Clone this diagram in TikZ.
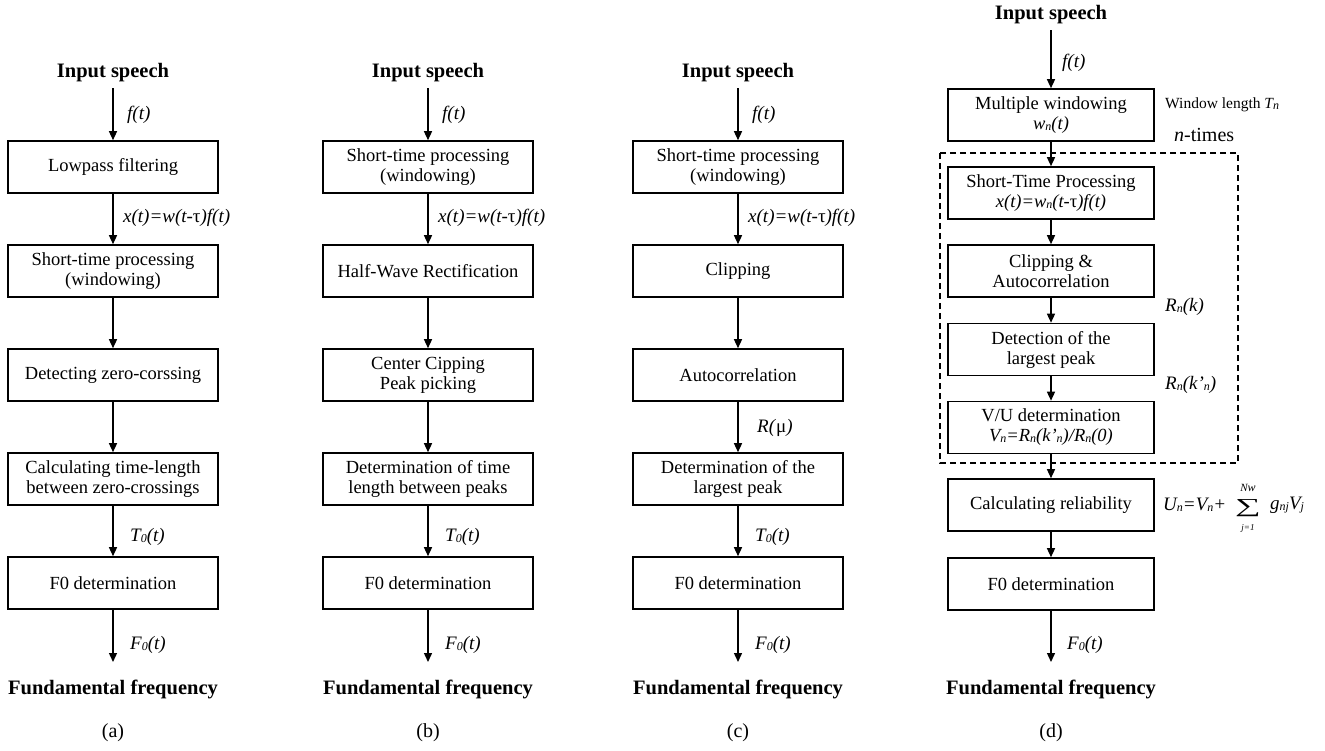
\documentclass[tikz,border=0pt]{standalone}
\usepackage{fontspec}
\setmainfont{Liberation Serif}
\usetikzlibrary{arrows.meta}
% small subscript set close to the baseline
\newcommand\lowsub[1]{\raisebox{-0.1ex}{\fontsize{12}{12}\selectfont #1}}
\tikzset{
  box/.style={draw, line width=1.6pt, minimum width=210pt, minimum height=52pt,
    inner sep=0pt, align=center, font=\fontsize{18.5}{20}\selectfont},
  dbox/.style={box, minimum width=206pt},
  arr/.style={line width=1.4pt, -{Triangle[length=9pt,width=8pt]}},
  lab/.style={anchor=west, inner sep=0pt, font=\fontsize{19}{19}\selectfont\itshape},
  head/.style={inner sep=0pt, font=\fontsize{20.5}{20.5}\selectfont\bfseries},
  figtag/.style={inner sep=0pt, font=\fontsize{20}{20}\selectfont},
  loopframe/.style={line width=1.8pt, dash pattern=on 6pt off 4pt},
}
\begin{document}
\begin{tikzpicture}[x=1pt,y=-1pt]
\useasboundingbox (0,0) rectangle (1325,751);

% ---------------- (a) zero-crossing method ----------------
\node[head] (ain) at (113,73) {Input speech};
\node[box] (a1) at (113,167) {Lowpass filtering};
\node[box] (a2) at (113,271) {Short-time processing\\(windowing)};
\node[box] (a3) at (113,375) {Detecting zero-corssing};
\node[box] (a4) at (113,479) {Calculating time-length\\between zero-crossings};
\node[box] (a5) at (113,583) {F0 determination};
\coordinate (aend) at (113,662);
\node[head] (aout) at (113,689) {Fundamental frequency};
\node[figtag] (atag) at (113,733) {(a)};
\draw[arr, shorten <=6pt] (ain) -- (a1);
\draw[arr] (a1) -- (a2);
\draw[arr] (a2) -- (a3);
\draw[arr] (a3) -- (a4);
\draw[arr] (a4) -- (a5);
\draw[arr] (a5) -- (aend);
\node[lab] at (127,115) {f(t)};
\node[lab] at (123,218) {x(t)=w(t-\textup{τ})f(t)};
\node[lab] at (130,537) {T\lowsub{0}(t)};
\node[lab] at (130,645) {F\lowsub{0}(t)};

% ---------------- (b) peak picking method ----------------
\node[head] (bin) at (428,73) {Input speech};
\node[box] (b1) at (428,167) {Short-time processing\\(windowing)};
\node[box] (b2) at (428,271) {Half-Wave Rectification};
\node[box] (b3) at (428,375) {Center Cipping\\Peak picking};
\node[box] (b4) at (428,479) {Determination of time\\length between peaks};
\node[box] (b5) at (428,583) {F0 determination};
\coordinate (bend) at (428,662);
\node[head] (bout) at (428,689) {Fundamental frequency};
\node[figtag] (btag) at (428,733) {(b)};
\draw[arr, shorten <=6pt] (bin) -- (b1);
\draw[arr] (b1) -- (b2);
\draw[arr] (b2) -- (b3);
\draw[arr] (b3) -- (b4);
\draw[arr] (b4) -- (b5);
\draw[arr] (b5) -- (bend);
\node[lab] at (442,115) {f(t)};
\node[lab] at (438,218) {x(t)=w(t-\textup{τ})f(t)};
\node[lab] at (445,537) {T\lowsub{0}(t)};
\node[lab] at (445,645) {F\lowsub{0}(t)};

% ---------------- (c) autocorrelation method ----------------
\node[head] (cin) at (738,73) {Input speech};
\node[box] (c1) at (738,167) {Short-time processing\\(windowing)};
\node[box] (c2) at (738,271) {Clipping};
\node[box] (c3) at (738,375) {Autocorrelation};
\node[box] (c4) at (738,479) {Determination of the\\largest peak};
\node[box] (c5) at (738,583) {F0 determination};
\coordinate (cend) at (738,662);
\node[head] (cout) at (738,689) {Fundamental frequency};
\node[figtag] (ctag) at (738,733) {(c)};
\draw[arr, shorten <=6pt] (cin) -- (c1);
\draw[arr] (c1) -- (c2);
\draw[arr] (c2) -- (c3);
\draw[arr] (c3) -- (c4);
\draw[arr] (c4) -- (c5);
\draw[arr] (c5) -- (cend);
\node[lab] at (752,115) {f(t)};
\node[lab] at (748,218) {x(t)=w(t-\textup{τ})f(t)};
\node[lab] at (757,428) {R(\textup{μ})};
\node[lab] at (755,537) {T\lowsub{0}(t)};
\node[lab] at (755,645) {F\lowsub{0}(t)};

% ---------------- (d) multiple-window method ----------------
\draw[loopframe] (940,153) rectangle (1238,463);
\node[head] (din) at (1051,15) {Input speech};
\node[dbox] (d1) at (1051,115) {Multiple windowing\\\textit{w\lowsub{n}(t)}};
\node[dbox] (d2) at (1051,193) {Short-Time Processing\\\textit{x(t)=w\lowsub{n}(t-\textup{τ})f(t)}};
\node[dbox] (d3) at (1051,271) {Clipping \&\\Autocorrelation};
\node[dbox] (d4) at (1051,349.5) {Detection of the\\largest peak};
\node[dbox] (d5) at (1051,427.5) {V/U determination\\\textit{V\lowsub{n}=R\lowsub{n}(k’\lowsub{n})/R\lowsub{n}(0)}};
\node[dbox] (d6) at (1051,505) {Calculating reliability};
\node[dbox] (d7) at (1051,584) {F0 determination};
\coordinate (dend) at (1051,662);
\node[head] (dout) at (1051,689) {Fundamental frequency};
\node[figtag] (dtag) at (1051,733) {(d)};
\draw[arr, shorten <=6pt] (din) -- (d1);
\draw[arr] (d1) -- (d2);
\draw[arr] (d2) -- (d3);
\draw[arr] (d3) -- (d4);
\draw[arr] (d4) -- (d5);
\draw[arr] (d5) -- (d6);
\draw[arr] (d6) -- (d7);
\draw[arr] (d7) -- (dend);
\node[lab] at (1062,63) {f(t)};
\node[lab] at (1067,645) {F\lowsub{0}(t)};
\node[anchor=west, inner sep=0pt, font=\fontsize{15.5}{15.5}\selectfont] at (1165,105)
  {Window length \textit{T\lowsub{n}}};
\node[anchor=west, inner sep=0pt, font=\fontsize{20}{20}\selectfont] at (1174,135)
  {\textit{n}-times};
\node[lab] at (1165,307) {R\lowsub{n}(k)};
\node[lab] at (1165,385) {R\lowsub{n}(k’\lowsub{n})};
% reliability formula with a summation sign and its limits
\node[lab] (ueq) at (1163,505) {U\lowsub{n}=V\lowsub{n}+};
\node[inner sep=0pt, font=\fontsize{36}{36}\selectfont] (usum) at (1248,508) {\scalebox{1}[0.55]{∑}};
\node[inner sep=0pt, font=\fontsize{11}{11}\selectfont\itshape] (uhi) at (1248,488) {N\lowsub{w}};
\node[inner sep=0pt, font=\fontsize{9}{9}\selectfont\itshape] (ulo) at (1248,528) {j=1};
\node[lab] (uend) at (1270,505) {g\lowsub{nj}V\lowsub{j}};
\end{tikzpicture}
\end{document}
